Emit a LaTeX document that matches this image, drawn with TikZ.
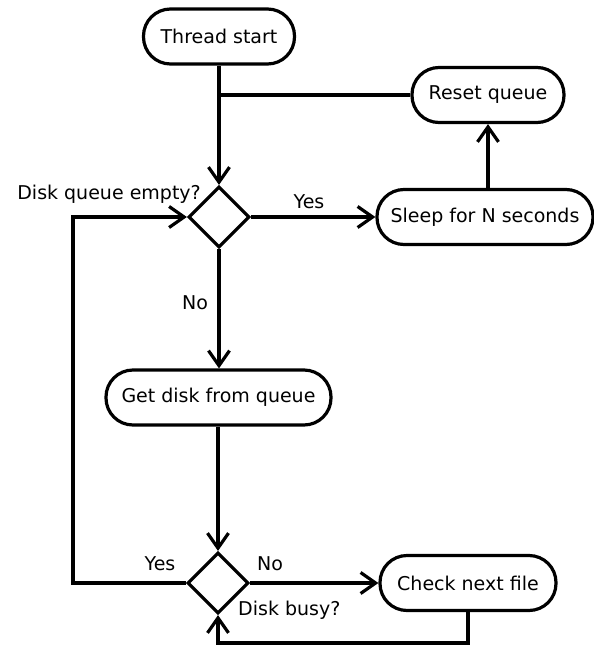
\documentclass[tikz,border=0pt]{standalone}
\usepackage{fontspec}
\setmainfont{DejaVu Sans}
\usetikzlibrary{shapes.geometric,arrows.meta}
\begin{document}
\begin{tikzpicture}[x=1pt,y=-1pt,
  every node/.style={font=\fontsize{19}{21}\selectfont},
  flowbox/.style={draw,line width=3.2pt,rectangle,rounded corners=27pt,minimum height=55pt,inner sep=0pt},
  decision/.style={draw,line width=3.2pt,diamond,aspect=1,minimum size=61pt,inner sep=0pt},
  conn/.style={line width=3.2pt},
  arr/.style={conn,-{Straight Barb[length=15pt,width=21pt]}},
  lbl/.style={inner sep=0pt}]
\useasboundingbox (0,0) rectangle (594,646);
\node[flowbox,minimum width=151pt] (start) at (219,36.5) {Thread start};
\node[flowbox,minimum width=152pt] (reset) at (488,95) {Reset queue};
\node[decision] (d1) at (219,217) {};
\node[flowbox,minimum width=216pt] (sleep) at (485,217) {Sleep for N seconds};
\node[flowbox,minimum width=225pt] (get) at (218.5,397.5) {Get disk from queue};
\node[decision] (d2) at (218,583) {};
\node[flowbox,minimum width=176pt] (check) at (468,583) {Check next file};

\coordinate (join) at (219,95);
\coordinate (lefttop) at (73,217);
\coordinate (leftbot) at (73,583);
\coordinate (botr) at (468,643);
\coordinate (botl) at (218,643);

\node[lbl,anchor=east] (q1) at (201,194) {Disk queue empty?};
\node[lbl] (yes1) at (309,202) {Yes};
\node[lbl] (no1) at (195,303) {No};
\node[lbl] (yes2) at (160,564) {Yes};
\node[lbl] (no2) at (270,564) {No};
\node[lbl,anchor=west] (q2) at (238,610) {Disk busy?};

\draw[arr] (start.south) -- (d1.north);
\draw[conn] (reset.west) -- (join);
\draw[arr] (sleep.north -| reset.south) -- (reset.south);
\draw[arr] (d1.east) -- (sleep.west);
\draw[arr] (d1.south) -- (get.north -| d1.south);
\draw[arr] (get.south -| d2.north) -- (d2.north);
\draw[arr] (d2.west) -- (leftbot) -- (lefttop) -- (d1.west);
\draw[arr] (d2.east) -- (check.west);
\draw[arr] (check.south) -- (botr) -- (botl) -- (d2.south);
\end{tikzpicture}
\end{document}
